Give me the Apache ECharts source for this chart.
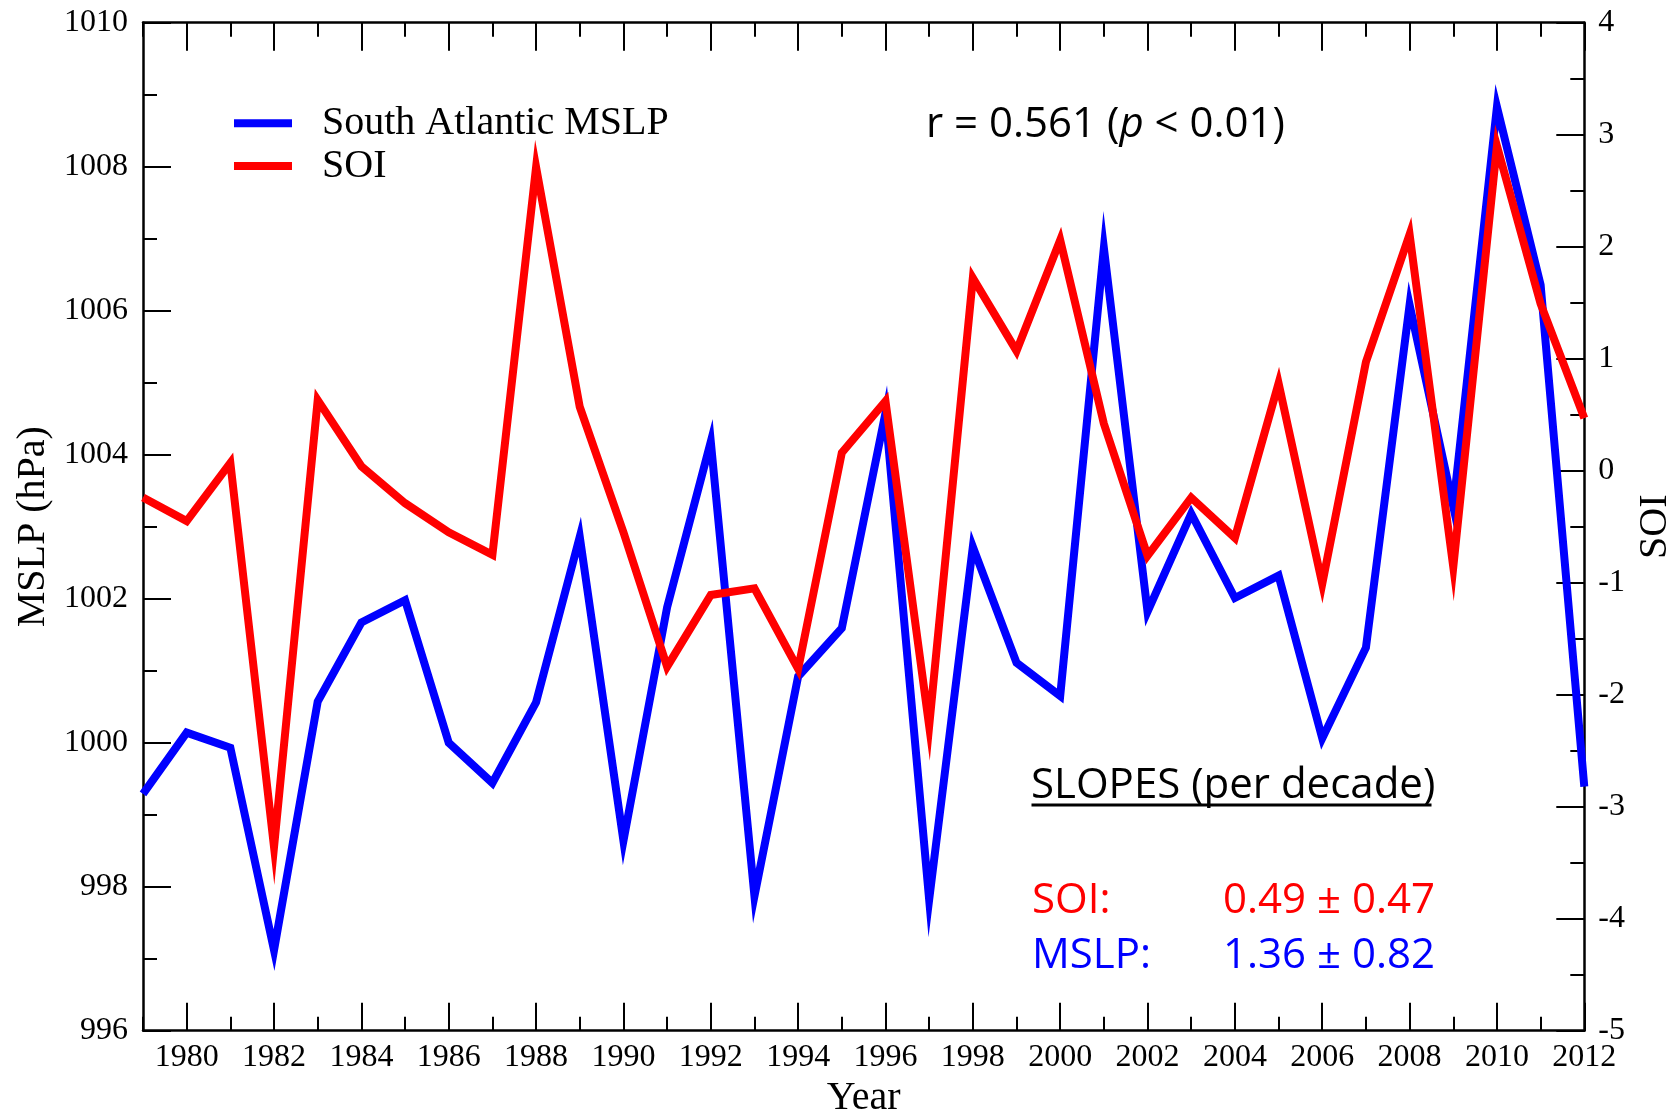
<!DOCTYPE html>
<html>
<head>
<meta charset="utf-8">
<script src="https://cdn.jsdelivr.net/npm/echarts@6/dist/echarts.min.js"></script>
<style>
html,body{margin:0;padding:0;background:#fff;}
#chart{width:1671px;height:1113px;}
</style>
</head>
<body>
<div id="chart"></div>
<script>
// ---- data ----
const years = ['1979','1980','1981','1982','1983','1984','1985','1986','1987','1988',
               '1989','1990','1991','1992','1993','1994','1995','1996','1997','1998',
               '1999','2000','2001','2002','2003','2004','2005','2006','2007','2008',
               '2009','2010','2011','2012'];
const mslp = [999.29, 1000.14, 999.93, 997.12, 1000.57, 1001.67, 1001.98, 1000.00, 999.44, 1000.56,
              1002.86, 998.64, 1001.88, 1004.18, 997.87, 1000.92, 1001.59, 1004.58, 997.82, 1002.72,
              1001.11, 1000.65, 1006.87, 1001.82, 1003.18, 1002.01, 1002.32, 1000.06, 1001.32, 1006.08,
              1003.28, 1008.83, 1006.36, 999.39];
const soi = [-0.24, -0.45, 0.07, -3.36, 0.63, 0.04, -0.29, -0.55, -0.75, 2.71,
             0.57, -0.55, -1.75, -1.11, -1.05, -1.77, 0.16, 0.62, -2.28, 1.72,
             1.07, 2.06, 0.42, -0.76, -0.24, -0.60, 0.78, -1.01, 0.97, 2.11,
             -0.86, 2.90, 1.49, 0.47];
const seriesNames = ['South Atlantic MSLP', 'SOI'];
const corrText = ['r = 0.561 (', 'p', ' < 0.01)'];
const slopeTitle = 'SLOPES (per decade)';
const slopeLabels = ['SOI:', 'MSLP:'];
const slopeValues = ['0.49 \u00b1 0.47', '1.36 \u00b1 0.82'];

// ---- styling ----
const serif = '"Liberation Serif", "Times New Roman", serif';
const sans = '"Open Sans", sans-serif';
const BLUE = '#0000ff', RED = '#ff0000', BLACK = '#000000';
const isEven = (i, v) => Number(v) % 2 === 0;
const isOdd = (i, v) => Number(v) % 2 !== 0;
const plain = (v) => String(v);

function xAxisDef(position, major, withLabels) {
  return {
    type: 'category',
    data: years,
    position: position,
    boundaryGap: false,
    axisLine: {show: major, onZero: false, lineStyle: {color: BLACK, width: 2.5}},
    axisTick: {show: true, inside: true, length: major ? 28 : 14,
               interval: major ? isEven : isOdd, lineStyle: {color: BLACK, width: 2}},
    axisLabel: {show: withLabels, interval: isEven, margin: 11, color: BLACK,
                fontFamily: serif, fontSize: 32},
    splitLine: {show: false},
    name: withLabels ? 'Year' : '',
    nameLocation: 'middle',
    nameGap: 45,
    nameTextStyle: {fontFamily: serif, fontSize: 40, color: BLACK}
  };
}

const chart = echarts.init(document.getElementById('chart'), null, {renderer: 'canvas'});

chart.setOption({
  animation: false,
  backgroundColor: '#ffffff',
  grid: {left: 143, right: 86.7, top: 22.7, bottom: 82.3, containLabel: false,
         outerBoundsMode: 'none'},
  xAxis: [
    xAxisDef('bottom', true, true),
    xAxisDef('bottom', false, false),
    xAxisDef('top', true, false),
    xAxisDef('top', false, false)
  ],
  yAxis: [
    {
      type: 'value', position: 'left', min: 996, max: 1010, interval: 2,
      axisLine: {show: true, onZero: false, lineStyle: {color: BLACK, width: 2.5}},
      axisTick: {show: true, inside: true, length: 28, lineStyle: {color: BLACK, width: 2}},
      minorTick: {show: true, splitNumber: 2, length: 14, lineStyle: {color: BLACK, width: 2}},
      axisLabel: {margin: 15, color: BLACK, fontFamily: serif, fontSize: 32, formatter: plain},
      splitLine: {show: false}, minorSplitLine: {show: false},
      name: 'MSLP (hPa)', nameLocation: 'middle', nameGap: 89,
      nameTextStyle: {fontFamily: serif, fontSize: 40, color: BLACK}
    },
    {
      type: 'value', position: 'right', min: -5, max: 4, interval: 1,
      axisLine: {show: true, onZero: false, lineStyle: {color: BLACK, width: 2.5}},
      axisTick: {show: true, inside: true, length: 28, lineStyle: {color: BLACK, width: 2}},
      minorTick: {show: true, splitNumber: 2, length: 14, lineStyle: {color: BLACK, width: 2}},
      axisLabel: {margin: 14, color: BLACK, fontFamily: serif, fontSize: 32, formatter: plain},
      splitLine: {show: false}, minorSplitLine: {show: false},
      name: 'SOI', nameLocation: 'middle', nameGap: 51, nameRotate: 90,
      nameTextStyle: {fontFamily: serif, fontSize: 40, color: BLACK}
    }
  ],
  legend: {
    orient: 'vertical', left: 234, top: 103.3, padding: 0,
    itemWidth: 58, itemHeight: 8, itemGap: 2.7, icon: 'rect',
    selectedMode: false,
    data: seriesNames,
    textStyle: {fontFamily: serif, fontSize: 40, color: BLACK, lineHeight: 40,
                padding: [0, 0, 0, 25]}
  },
  series: [
    {
      name: seriesNames[0], type: 'line', xAxisIndex: 0, yAxisIndex: 0,
      data: mslp, symbol: 'none', showSymbol: false, color: BLUE,
      lineStyle: {color: BLUE, width: 8, join: 'miter', miterLimit: 30},
      emphasis: {disabled: true}, z: 2
    },
    {
      name: seriesNames[1], type: 'line', xAxisIndex: 0, yAxisIndex: 1,
      data: soi, symbol: 'none', showSymbol: false, color: RED,
      lineStyle: {color: RED, width: 8, join: 'miter', miterLimit: 30},
      emphasis: {disabled: true}, z: 3
    }
  ],
  graphic: [
    {
      type: 'text', x: 926, y: 124.7, z: 10,
      style: {
        text: '{a|' + corrText[0] + '}{b|' + corrText[1] + '}{a|' + corrText[2] + '}',
        rich: {
          a: {fontFamily: sans, fontSize: 42, fill: BLACK},
          b: {fontFamily: sans, fontSize: 42, fontStyle: 'italic', fill: BLACK}
        },
        align: 'left', verticalAlign: 'middle', textAlign: 'left', textVerticalAlign: 'middle'
      }
    },
    {
      type: 'text', x: 1031, y: 786.3, z: 10,
      style: {text: slopeTitle, fontFamily: sans, fontSize: 42, fill: BLACK,
              align: 'left', verticalAlign: 'middle', textAlign: 'left', textVerticalAlign: 'middle'}
    },
    {
      type: 'rect', z: 10,
      shape: {x: 1031.5, y: 803.5, width: 400, height: 3},
      style: {fill: BLACK}
    },
    {
      type: 'text', x: 1032, y: 900.7, z: 10,
      style: {text: slopeLabels[0], fontFamily: sans, fontSize: 42, fill: RED,
              align: 'left', verticalAlign: 'middle', textAlign: 'left', textVerticalAlign: 'middle'}
    },
    {
      type: 'text', x: 1223, y: 900.7, z: 10,
      style: {text: slopeValues[0], fontFamily: sans, fontSize: 42, fill: RED,
              align: 'left', verticalAlign: 'middle', textAlign: 'left', textVerticalAlign: 'middle'}
    },
    {
      type: 'text', x: 1032, y: 956.3, z: 10,
      style: {text: slopeLabels[1], fontFamily: sans, fontSize: 42, fill: BLUE,
              align: 'left', verticalAlign: 'middle', textAlign: 'left', textVerticalAlign: 'middle'}
    },
    {
      type: 'text', x: 1223, y: 956.3, z: 10,
      style: {text: slopeValues[1], fontFamily: sans, fontSize: 42, fill: BLUE,
              align: 'left', verticalAlign: 'middle', textAlign: 'left', textVerticalAlign: 'middle'}
    }
  ]
});
</script>
</body>
</html>
